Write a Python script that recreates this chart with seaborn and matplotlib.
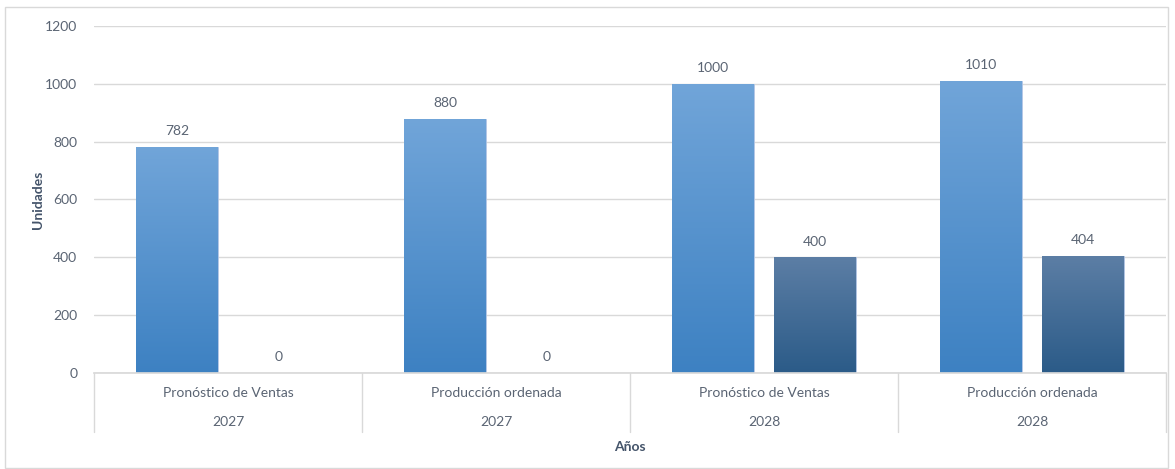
import numpy as np
import pandas as pd
import matplotlib
matplotlib.use("Agg")
import matplotlib.pyplot as plt
import seaborn as sns
from matplotlib.colors import LinearSegmentedColormap
from matplotlib.patches import Rectangle
from matplotlib.lines import Line2D

# Chart data
conceptos = ["Pronóstico de Ventas", "Producción ordenada", "Pronóstico de Ventas", "Producción ordenada"]
anios = ["2027", "2027", "2028", "2028"]
serie_1 = [782, 880, 1000, 1010]
serie_2 = [0, 0, 400, 404]
series = ["Serie1", "Serie2"]

claves = [f"{c}|{a}" for c, a in zip(conceptos, anios)]
df = pd.DataFrame({
    "clave": claves * 2,
    "serie": [series[0]] * 4 + [series[1]] * 4,
    "valor": serie_1 + serie_2,
})

sns.set_theme(style="white")
plt.rcParams["font.family"] = ["Lato", "DejaVu Sans"]
texto = "#5a6473"
titulo = "#44546a"

fig = plt.figure(figsize=(11.75, 4.69), dpi=100)
ax = fig.add_axes([0.080, 0.2047, 0.9123, 0.7399])

sns.barplot(data=df, x="clave", y="valor", hue="serie", order=claves,
            hue_order=series, palette=["#5b9bd5", "#3a6794"],
            width=0.76, gap=0.195, legend=False, ax=ax, errorbar=None)

ax.set_ylim(0, 1200)
ax.set_xlim(-0.5, 3.5)
ax.set_yticks(range(0, 1201, 200))
ax.yaxis.grid(True, color="#d9d9d9", linewidth=1)
ax.set_axisbelow(True)
for s in ["top", "right", "left"]:
    ax.spines[s].set_visible(False)
ax.spines["bottom"].set_color("#d9d9d9")
ax.tick_params(axis="y", length=0, labelsize=10, labelcolor=texto, pad=12)
ax.tick_params(axis="x", length=0, labelsize=10, labelcolor=texto, pad=10)
ax.set_xticks(range(4))
ax.set_xticklabels(conceptos)

# Year row under the categories
for i, a in enumerate(anios):
    ax.text(i, -0.141, a, transform=ax.get_xaxis_transform(), ha="center",
            va="center", fontsize=10, color=texto)

# Separators between categories
for b in np.arange(-0.5, 4.0, 1.0):
    ax.add_line(Line2D([b, b], [0, -0.17], transform=ax.get_xaxis_transform(),
                       color="#d9d9d9", linewidth=1, clip_on=False))

ax.set_xlabel("Años", fontsize=10, fontweight="bold", color=titulo, labelpad=30)
ax.set_ylabel("Unidades", fontsize=10, fontweight="bold", color=titulo, labelpad=1)

# Vertical gradient fill for each bar
gradientes = {
    0: LinearSegmentedColormap.from_list("g1", ["#3d81c2", "#71a5d9"]),
    1: LinearSegmentedColormap.from_list("g2", ["#2b5b88", "#5c7ea5"]),
}
grad = np.linspace(0, 1, 256).reshape(-1, 1)
for idx, cont in enumerate(ax.containers):
    for bar in cont:
        x0, w, h = bar.get_x(), bar.get_width(), bar.get_height()
        bar.set_edgecolor("#b4c7e7")
        bar.set_linewidth(0.6)
        if h > 0:
            im = ax.imshow(grad, cmap=gradientes[idx], origin="lower",
                           extent=[x0, x0 + w, 0, h], aspect="auto", zorder=2.5)
            im.set_clip_path(bar)
    ax.bar_label(cont, labels=[f"{v:.0f}" for v in cont.datavalues],
                 padding=7, fontsize=10, color=texto)

ax.set_xlim(-0.5, 3.5)
ax.set_ylim(0, 1200)

# Outer chart frame
fig.patches.append(Rectangle((5 / 1175, 0.002), 1163 / 1175, 1 - 7 / 469 - 0.002,
                             transform=fig.transFigure, fill=False,
                             edgecolor="#d9d9d9", linewidth=1))

fig.savefig("out.png", dpi=100)
